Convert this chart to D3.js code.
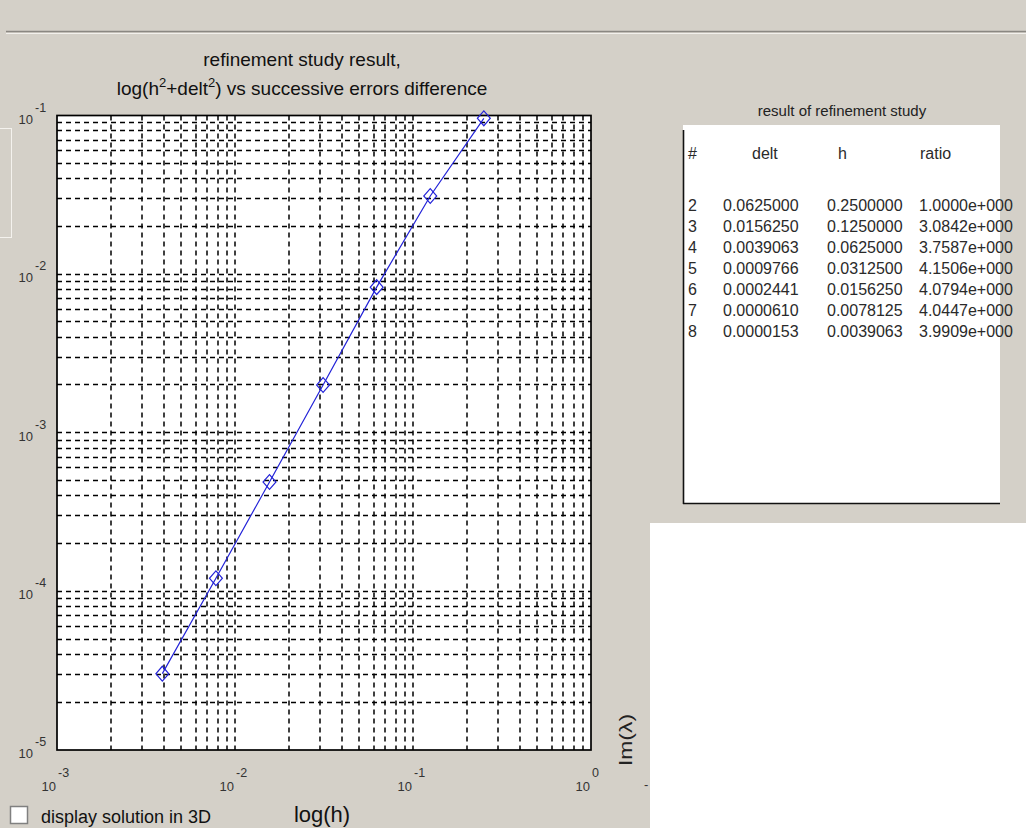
<!DOCTYPE html>
<meta charset="utf-8">
<script src="https://d3js.org/d3.v7.min.js"></script>
<style>
  body { margin: 0; background: #d4d0c8; font-family: Arial, "Liberation Sans", sans-serif; }
  svg { display: block; }
</style>
<body>
<div id="my_dataviz"></div>
<script>

// data
var hValues = [0.25, 0.125, 0.0625, 0.03125, 0.015625, 0.0078125, 0.0039063];
var errDiff = [0.096, 0.0311, 0.00828, 0.00200, 0.000489, 0.000121, 0.0000303];
var xExponents = [-3, -2, -1, 0];
var yExponents = [-1, -2, -3, -4, -5];

// table on the right
var tableHeader = ["#", "delt", "h", "ratio"];
var rowNum = ["2", "3", "4", "5", "6", "7", "8"];
var deltCol = ["0.0625000", "0.0156250", "0.0039063", "0.0009766", "0.0002441", "0.0000610", "0.0000153"];
var hCol = ["0.2500000", "0.1250000", "0.0625000", "0.0312500", "0.0156250", "0.0078125", "0.0039063"];
var ratioCol = ["1.0000e+000", "3.0842e+000", "3.7587e+000", "4.1506e+000", "4.0794e+000", "4.0447e+000", "3.9909e+000"];

var W = 1026, H = 828;
var margin = {top: 115.5, left: 57},
    width = 534,
    height = 634.5;

var root = d3.select("#my_dataviz")
  .append("svg")
    .attr("width", W)
    .attr("height", H);

// window chrome: top strip and separator
root.append("rect").attr("width", W).attr("height", H).attr("fill", "#d4d0c8");
root.append("line").attr("x1", 6).attr("x2", W).attr("y1", 31.5).attr("y2", 31.5).attr("stroke", "#8a8782").attr("stroke-width", 1.5);
root.append("line").attr("x1", 6).attr("x2", W).attr("y1", 33.5).attr("y2", 33.5).attr("stroke", "#f2f0ec").attr("stroke-width", 1);
root.append("rect").attr("x", -2).attr("y", 128.5).attr("width", 13.5).attr("height", 109)
  .attr("fill", "none").attr("stroke", "#f4f2ee").attr("stroke-width", 1);

// white empty panel bottom right
root.append("rect").attr("x", 650).attr("y", 523).attr("width", W - 650).attr("height", H - 523).attr("fill", "#ffffff");

// titles
var title = root.append("g").attr("font-size", "19px").attr("fill", "#111").attr("text-anchor", "middle");
title.append("text").attr("x", 302).attr("y", 66).text("refinement study result,");
var t2 = title.append("text").attr("x", 302).attr("y", 95);
t2.append("tspan").text("log(h");
t2.append("tspan").attr("font-size", "13px").attr("dy", -8).text("2");
t2.append("tspan").attr("dy", 8).text("+delt");
t2.append("tspan").attr("font-size", "13px").attr("dy", -8).text("2");
t2.append("tspan").attr("dy", 8).text(") vs successive errors difference");

var svg = root.append("g")
  .attr("transform", "translate(" + margin.left + "," + margin.top + ")");

var x = d3.scaleLog().domain([1e-3, 1]).range([0, width]);
var y = d3.scaleLog().domain([1e-5, 1e-1]).range([height, 0]);

svg.append("rect").attr("width", width).attr("height", height).attr("fill", "#ffffff");

// dashed grid, major + minor
var xGrid = x.ticks().filter(function(d) { return d > 1e-3 && d < 1; });
var yGrid = y.ticks().filter(function(d) { return d > 1e-5 && d < 1e-1; });

svg.append("g").selectAll("line")
  .data(xGrid)
  .enter().append("line")
    .attr("x1", function(d) { return Math.round(x(d)); })
    .attr("x2", function(d) { return Math.round(x(d)); })
    .attr("y1", 0).attr("y2", height)
    .attr("stroke", "#000").attr("stroke-width", 1.5)
    .attr("stroke-dasharray", "5,4");

svg.append("g").selectAll("line")
  .data(yGrid)
  .enter().append("line")
    .attr("y1", function(d) { return Math.round(y(d)); })
    .attr("y2", function(d) { return Math.round(y(d)); })
    .attr("x1", 0).attr("x2", width)
    .attr("stroke", "#000").attr("stroke-width", 1.5)
    .attr("stroke-dasharray", "5,4");

// box
svg.append("rect").attr("width", width).attr("height", height)
  .attr("fill", "none").attr("stroke", "#000").attr("stroke-width", 1.7);

// tick labels as 10^e
var xl = root.append("g").attr("fill", "#333");
xExponents.forEach(function(e) {
  var px = margin.left + x(Math.pow(10, e));
  xl.append("text").attr("x", px - 1).attr("y", 791).attr("text-anchor", "end").attr("font-size", "13px").text("10");
  xl.append("text").attr("x", px + 1).attr("y", 777).attr("font-size", "12.5px").text(String(e));
});
var yl = root.append("g").attr("fill", "#333");
yExponents.forEach(function(e) {
  var py = margin.top + y(Math.pow(10, e));
  yl.append("text").attr("x", 33).attr("y", py + 8).attr("text-anchor", "end").attr("font-size", "13px").text("10");
  yl.append("text").attr("x", 35).attr("y", py - 4).attr("font-size", "12.5px").text(String(e));
});

// data line and diamond markers
var pts = hValues.map(function(h, i) { return [h, errDiff[i]]; });
svg.append("path")
  .datum(pts)
  .attr("d", d3.line()
    .x(function(d) { return x(d[0]); })
    .y(function(d) { return y(d[1]); }))
  .attr("fill", "none")
  .attr("stroke", "#2222d8")
  .attr("stroke-width", 1.2);

svg.append("g").selectAll("path")
  .data(pts)
  .enter().append("path")
    .attr("d", d3.symbol().type(d3.symbolSquare).size(110))
    .attr("transform", function(d) { return "translate(" + x(d[0]) + "," + y(d[1]) + ") scale(0.87,1) rotate(45)"; })
    .attr("fill", "none")
    .attr("stroke", "#2222d8")
    .attr("stroke-width", 1.3);

// axis label
root.append("text").attr("x", 322).attr("y", 822).attr("text-anchor", "middle")
  .attr("font-size", "22px").attr("fill", "#111").text("log(h)");

// garbled rotated label right of the plot
root.append("text").attr("transform", "translate(632,740) rotate(-90)")
  .attr("text-anchor", "middle").attr("font-size", "18px").attr("fill", "#222")
  .attr("textLength", 52).attr("lengthAdjust", "spacingAndGlyphs").text("Im(λ)");
root.append("text").attr("x", 644).attr("y", 789).attr("font-size", "13px").attr("fill", "#333").text("-");

// checkbox
root.append("rect").attr("x", 10.5).attr("y", 806.5).attr("width", 17).attr("height", 17)
  .attr("fill", "#fff").attr("stroke", "#808080").attr("stroke-width", 1.5);
root.append("text").attr("x", 41).attr("y", 823).attr("font-size", "18px").attr("fill", "#111")
  .text("display solution in 3D");

// results table
root.append("text").attr("x", 842).attr("y", 116).attr("text-anchor", "middle")
  .attr("font-size", "15px").attr("fill", "#222").text("result of refinement study");
root.append("rect").attr("x", 683).attr("y", 125).attr("width", 317).attr("height", 378).attr("fill", "#ffffff");
root.append("line").attr("x1", 683.5).attr("x2", 683.5).attr("y1", 130).attr("y2", 504).attr("stroke", "#111").attr("stroke-width", 1.6);
root.append("line").attr("x1", 683).attr("x2", 1000).attr("y1", 503.5).attr("y2", 503.5).attr("stroke", "#111").attr("stroke-width", 1.6);

var tb = root.append("g").attr("font-size", "16px").attr("fill", "#2a2a2a");
var headX = [688, 752, 838, 920];
tableHeader.forEach(function(t, i) {
  tb.append("text").attr("x", headX[i]).attr("y", 159).text(t);
});
var row = d3.scaleLinear().domain([0, 6]).range([211, 337]);
rowNum.forEach(function(n, i) {
  var ry = row(i);
  tb.append("text").attr("x", 688).attr("y", ry).text(n);
  tb.append("text").attr("x", 723).attr("y", ry).text(deltCol[i]);
  tb.append("text").attr("x", 827).attr("y", ry).text(hCol[i]);
  tb.append("text").attr("x", 919).attr("y", ry).text(ratioCol[i]);
});

</script>
</body>
